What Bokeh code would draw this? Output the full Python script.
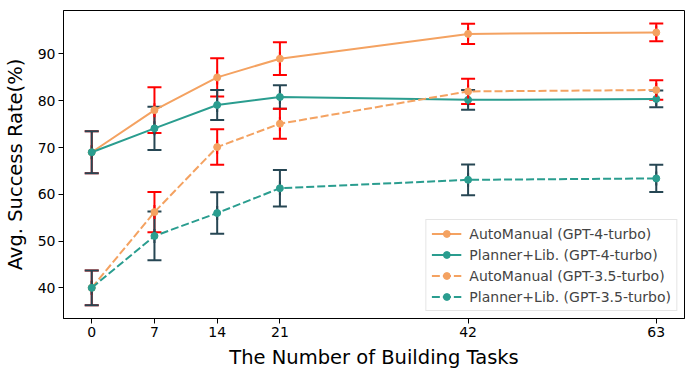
import math
from bokeh.plotting import figure
from bokeh.models import ColumnDataSource, Whisker, TeeHead, Legend, LegendItem, Range1d, FixedTicker
from bokeh.embed import file_html
from bokeh.resources import INLINE

tasks = [0, 7, 14, 21, 42, 63]
am_gpt4 = [69.0, 78.0, 85.0, 89.0, 94.3, 94.6]
am_gpt4_err = [4.5, 4.9, 4.1, 3.5, 2.15, 1.9]
pl_gpt4 = [69.0, 74.1, 79.1, 80.8, 80.2, 80.4]
pl_gpt4_err = [4.5, 4.6, 3.2, 2.5, 2.1, 1.8]
am_gpt35 = [40.0, 56.2, 70.1, 75.1, 82.0, 82.3]
am_gpt35_err = [3.7, 4.3, 3.8, 3.2, 2.7, 2.1]
pl_gpt35 = [40.0, 51.1, 56.0, 61.3, 63.1, 63.4]
pl_gpt35_err = [3.7, 5.2, 4.45, 3.9, 3.3, 2.9]
y_ticks = [40, 50, 60, 70, 80, 90]

ORANGE = "#F4A261"
TEAL = "#2A9D8F"
DARK = "#264653"
RED = "#FF0000"

series = [
    ("AutoManual (GPT-4-turbo)", am_gpt4, am_gpt4_err, ORANGE, RED, "solid"),
    ("Planner+Lib. (GPT-4-turbo)", pl_gpt4, pl_gpt4_err, TEAL, DARK, "solid"),
    ("AutoManual (GPT-3.5-turbo)", am_gpt35, am_gpt35_err, ORANGE, RED, "dashed"),
    ("Planner+Lib. (GPT-3.5-turbo)", pl_gpt35, pl_gpt35_err, TEAL, DARK, "dashed"),
]

p = figure(output_backend="svg", toolbar_location=None,
           frame_width=621, frame_height=308,
           min_border_left=54, min_border_top=10, min_border_right=1, min_border_bottom=40,
           x_range=Range1d(-3.15, 66.15), y_range=Range1d(33.45, 99.3))

p.background_fill_color = "white"
p.border_fill_color = "white"
p.outline_line_color = "black"
p.outline_line_width = 1
p.xgrid.visible = False
p.ygrid.visible = False

items = []
for label, vals, errs, col, ecol, dash in series:
    src = ColumnDataSource(dict(
        x=tasks, y=vals,
        upper=[v + e for v, e in zip(vals, errs)],
        lower=[v - e for v, e in zip(vals, errs)],
    ))
    w = Whisker(source=src, base="x", upper="upper", lower="lower",
                line_color=ecol, line_width=2, level="underlay",
                upper_head=TeeHead(size=14, line_color=ecol, line_width=2),
                lower_head=TeeHead(size=14, line_color=ecol, line_width=2))
    p.add_layout(w)
    ld = "solid" if dash == "solid" else "8 3"
    r1 = p.line("x", "y", source=src, line_color=col, line_width=2, line_dash=ld)
    # short vertical stroke of the error bar at each point (also gives the legend its bar)
    rbar = p.scatter("x", "y", source=src, marker="dash", angle=math.pi / 2, size=14,
                     line_color=ecol, line_width=2)
    r2 = p.scatter("x", "y", source=src, size=7, fill_color=col, line_color=col, marker="circle")
    items.append(LegendItem(label=label, renderers=[r1, rbar, r2]))

legend = Legend(items=items, location="bottom_right",
                label_text_font="DejaVu Sans", label_text_font_size="14px",
                glyph_width=30, glyph_height=17, label_height=17, spacing=4,
                padding=5, margin=7, border_line_color="#cccccc", border_line_width=1,
                background_fill_alpha=0.8, label_standoff=8)
p.add_layout(legend)

p.xaxis.ticker = FixedTicker(ticks=tasks)
p.yaxis.ticker = FixedTicker(ticks=y_ticks)
for ax in (p.xaxis[0], p.yaxis[0]):
    ax.minor_tick_line_color = None
    ax.major_tick_out = 5
    ax.major_tick_in = 0
    ax.axis_line_color = "black"
    ax.major_tick_line_color = "black"
    ax.major_label_text_font = "DejaVu Sans"
    ax.major_label_text_font_size = "14px"
    ax.major_label_text_color = "black"
    ax.axis_label_text_font = "DejaVu Sans"
    ax.axis_label_text_font_size = "19.5px"
    ax.axis_label_text_font_style = "normal"
    ax.axis_label_text_color = "black"

p.xaxis.axis_label = "The Number of Building Tasks"
p.yaxis.axis_label = "Avg. Success Rate(%)"
p.xaxis.axis_label_standoff = 6
p.yaxis.axis_label_standoff = 8
p.xaxis.major_label_standoff = 3
p.yaxis.major_label_standoff = 3

open("out.html", "w").write(file_html(p, INLINE))
